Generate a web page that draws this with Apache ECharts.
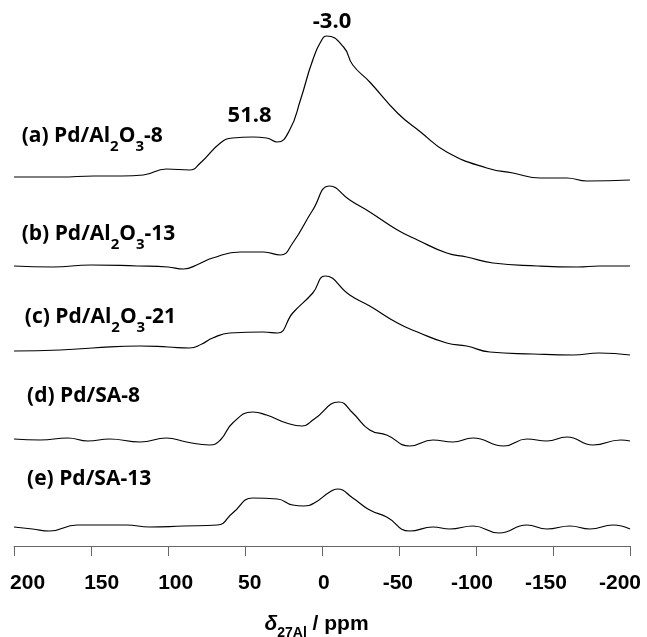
<!DOCTYPE html>
<html>
<head>
<meta charset="utf-8">
<script src="https://cdn.jsdelivr.net/npm/echarts@6/dist/echarts.min.js"></script>
<style>
html,body{margin:0;padding:0;background:#fff;}
#chart{width:647px;height:637px;}
</style>
</head>
<body>
<div id="chart"></div>
<script>
// x-axis ticks (ppm)
const xTicks = [200, 150, 100, 50, 0, -50, -100, -150, -200];

// Trace baselines (stack offsets, arbitrary intensity units)
const offsets = [367, 280, 194, 105, 18];

// (a) Pd/Al2O3-8
const ppmA = [200, 170, 148, 130, 116, 101, 86, 79, 66, 58, 45, 36, 29, 21, 14, 6, -0.6, -3, -14, -20, -31, -49, -64, -81, -107, -124, -142, -159, -172, -200];
const intA = [2, 2, 3, 3, 4, 10, 9, 16, 36, 41, 42, 41, 37, 49, 79, 119, 141, 143, 132, 114, 97, 66, 47, 27, 11, 6, 1, 1, -2, -1];

// (b) Pd/Al2O3-13
const ppmB = [200, 175, 150, 120, 100, 90, 80, 71, 53, 38, 27, 19, 6, -5, -18, -31, -49, -62, -81, -94, -111, -140, -166, -180, -200];
const intB = [0, -1, 1, 0, -1, -3, 2, 8, 14, 14, 11, 23, 56, 80, 66, 54, 36, 26, 13, 9, 3, 0, -1, 0, 0];

// (c) Pd/Al2O3-21
const ppmC = [200, 170, 149, 118, 100, 86, 78, 71, 60, 38, 29, 19, 6, -2, -18, -31, -49, -62, -81, -94, -109, -137, -163, -180, -200];
const intC = [1, 2, 4, 6, 5, 4, 8, 14, 19, 20, 19, 39, 59, 76, 57, 46, 29, 20, 9, 6, 0, -2, -3, -1, -3];

// (d) Pd/SA-8
const ppmD = [200, 183, 165, 152, 138, 118, 101, 88, 73, 66, 58, 45, 36, 23, 13, 5, -11, -20, -31, -42, -57, -72, -85, -98, -118, -133, -146, -159, -176, -194, -200];
const intD = [2, 1, 3, 0, 2, -1, 3, -1, -4, 1, 18, 29, 26, 18, 15, 22, 39, 28, 11, 6, -5, 1, -1, 3, -5, 2, 0, 4, -4, 1, 0];

// (e) Pd/SA-13
const ppmE = [200, 188, 177, 159, 144, 127, 112, 90, 68, 58, 45, 29, 19, 12, 5, -5, -10, -20, -31, -42, -57, -72, -83, -98, -115, -133, -146, -161, -174, -189, -200];
const intE = [1, -1, -3, 3, 3, 3, 1, 2, 3, 15, 30, 29, 23, 22, 25, 36, 39, 30, 18, 11, -3, 1, -1, 2, -5, 3, -1, 2, -1, 3, -1];

// Sample labels: rich text, anchor [ppm, height]
const sampleLabels = [
  '{m|(a) Pd/Al}{s|2}{m|O}{s|3}{m|-8}',
  '{m|(b) Pd/Al}{s|2}{m|O}{s|3}{m|-13}',
  '{m|(c) Pd/Al}{s|2}{m|O}{s|3}{m|-21}',
  '{m|(d) Pd/SA-8}',
  '{m|(e) Pd/SA-13}'
];
const sampleAnchors = [[195, 406], [195, 308], [193, 225], [191.5, 146], [191.5, 63]];
// Peak annotations
const peakLabels = ['51.8', '-3.0'];
const peakAnchors = [[47, 430], [-6.5, 524]];

const traces = [[ppmA, intA], [ppmB, intB], [ppmC, intC], [ppmD, intD], [ppmE, intE]];

const chart = echarts.init(document.getElementById('chart'), null, {renderer: 'canvas'});

const series = traces.map((t, i) => ({
  type: 'line',
  xAxisIndex: 0, yAxisIndex: 0,
  data: t[0].map((p, k) => [p, t[1][k] + offsets[i]]),
  showSymbol: false,
  symbol: 'none',
  smooth: 0.5,
  lineStyle: {color: '#000', width: 1.2},
  silent: true,
  animation: false
}));

chart.setOption({
  animation: false,
  backgroundColor: '#fff',
  grid: [
    {left: 14, right: 17, top: 10, bottom: 91, containLabel: false, outerBoundsMode: 'none'},
    {left: 27.6, right: 27, top: 10, bottom: 91, containLabel: false, outerBoundsMode: 'none'}
  ],
  xAxis: [{
    gridIndex: 0,
    type: 'value',
    min: -200, max: 200, interval: 50,
    inverse: true,
    axisLine: {show: true, lineStyle: {color: '#666', width: 1}},
    axisTick: {show: true, length: 10, inside: false, lineStyle: {color: '#666', width: 1}},
    splitLine: {show: false},
    axisLabel: {show: false},
    name: '{d|δ}{s|27Al}{t| / ppm}',
    nameLocation: 'middle',
    nameGap: 68,
    nameTextStyle: {
      padding: [0, 11, 0, 0],
      rich: {
        d: {fontFamily: 'Liberation Sans', fontWeight: 'bold', fontStyle: 'italic', fontSize: 21, color: '#000', lineHeight: 26, verticalAlign: 'top'},
        s: {fontFamily: 'Liberation Sans', fontWeight: 'bold', fontSize: 14, color: '#000', lineHeight: 14, verticalAlign: 'bottom'},
        t: {fontFamily: 'Liberation Sans', fontWeight: 'bold', fontSize: 21, color: '#000', lineHeight: 26, verticalAlign: 'top'}
      }
    }
  }, {
    gridIndex: 1,
    type: 'value',
    min: -200, max: 200, interval: 50,
    inverse: true,
    axisLine: {show: false},
    axisTick: {show: false},
    splitLine: {show: false},
    axisLabel: {
      margin: 27,
      fontFamily: 'Liberation Sans',
      fontWeight: 'bold',
      fontSize: 21,
      color: '#000',
      formatter: v => String(v)
    }
  }],
  yAxis: [
    {gridIndex: 0, type: 'value', min: 0, max: 536, show: false},
    {gridIndex: 1, type: 'value', min: 0, max: 536, show: false}
  ],
  series: series
});

const labelRich = {
  m: {fontFamily: 'Open Sans', fontWeight: 'bold', fontSize: 21, color: '#000', lineHeight: 28, verticalAlign: 'top'},
  s: {fontFamily: 'Open Sans', fontWeight: 'bold', fontSize: 15, color: '#000', lineHeight: 15, verticalAlign: 'bottom'}
};

const graphics = [];
sampleLabels.forEach((txt, i) => {
  const px = chart.convertToPixel({gridIndex: 0}, sampleAnchors[i]);
  graphics.push({
    type: 'text', x: px[0], y: px[1],
    style: {text: txt, rich: labelRich, align: 'left', verticalAlign: 'middle'}
  });
});
peakLabels.forEach((txt, i) => {
  const px = chart.convertToPixel({gridIndex: 0}, peakAnchors[i]);
  graphics.push({
    type: 'text', x: px[0], y: px[1],
    style: {text: txt, fontFamily: 'Open Sans', fontWeight: 'bold', fontSize: 22, fill: '#000', align: 'center', verticalAlign: 'middle'}
  });
});
chart.setOption({graphic: graphics});
</script>
</body>
</html>
